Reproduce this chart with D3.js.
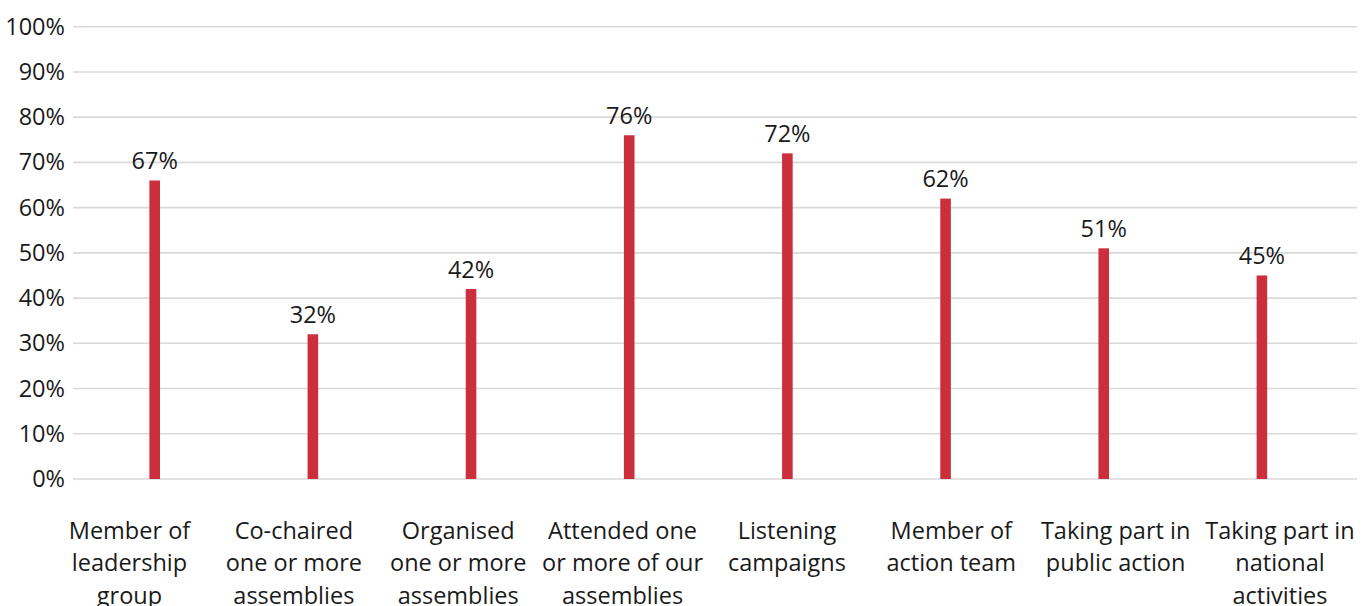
<!DOCTYPE html>
<html><head><meta charset="utf-8">
<script src="https://cdn.jsdelivr.net/npm/d3@7"></script>
<style>body{margin:0;background:#fff;} text{font-family:"Open Sans",sans-serif;fill:#1a1a1a;}</style>
</head><body>
<svg id="c" width="1369" height="606"></svg>
<script>
const categories = [
  ["Member of","leadership","group"],
  ["Co-chaired","one or more","assemblies"],
  ["Organised","one or more","assemblies"],
  ["Attended one","or more of our","assemblies"],
  ["Listening","campaigns"],
  ["Member of","action team"],
  ["Taking part in","public action"],
  ["Taking part in","national","activities"]
];
const values = [66, 32, 42, 76, 72, 62, 51, 45];
const labels = ["67%","32%","42%","76%","72%","62%","51%","45%"];
const yTicks = [0,10,20,30,40,50,60,70,80,90,100];

const FS = 23.5;
const svg = d3.select("#c");
const x = d3.scaleBand().domain(d3.range(categories.length)).range([75.6, 1341]);
// category text is spread a little wider than the bars
const xl = d3.scalePoint().domain(d3.range(categories.length)).range([129.5, 1280]);
const y = d3.scaleLinear().domain([0,100]).range([479, 26.7]);

// gridlines
svg.append("g").selectAll("line").data(yTicks).join("line")
  .attr("x1", 73).attr("x2", 1357)
  .attr("y1", d=>y(d)).attr("y2", d=>y(d))
  .attr("stroke", "#d9d9d9").attr("stroke-width", 1.6);

// y axis labels
const yAxis = d3.axisLeft(y).tickValues(yTicks).tickFormat(d=>d+"%").tickSize(0).tickPadding(0);
const ga = svg.append("g").attr("transform","translate(65,0)").call(yAxis);
ga.select(".domain").remove();
ga.selectAll("text").attr("font-size", FS).attr("font-family","Open Sans").attr("fill","#1a1a1a");

// bars
const bw = 10.6;
svg.append("g").selectAll("rect").data(values).join("rect")
  .attr("x", (d,i)=>x(i)+x.bandwidth()/2-bw/2)
  .attr("width", bw)
  .attr("y", d=>y(d))
  .attr("height", d=>y(0)-y(d))
  .attr("fill", "#cc2f3c");

// value labels
svg.append("g").selectAll("text").data(values).join("text")
  .attr("x", (d,i)=>x(i)+x.bandwidth()/2)
  .attr("y", d=>y(d)-11.5)
  .attr("text-anchor","middle")
  .attr("font-size", FS)
  .text((d,i)=>labels[i]);

// category labels
const cg = svg.append("g").selectAll("text").data(categories).join("text")
  .attr("text-anchor","middle")
  .attr("font-size", FS);
cg.selectAll("tspan").data((d,i)=>d.map(s=>({s,i}))).join("tspan")
  .attr("x", d=>xl(d.i))
  .attr("y", (d,j)=>539+j*32.3)
  .text(d=>d.s);
</script>
</body></html>
